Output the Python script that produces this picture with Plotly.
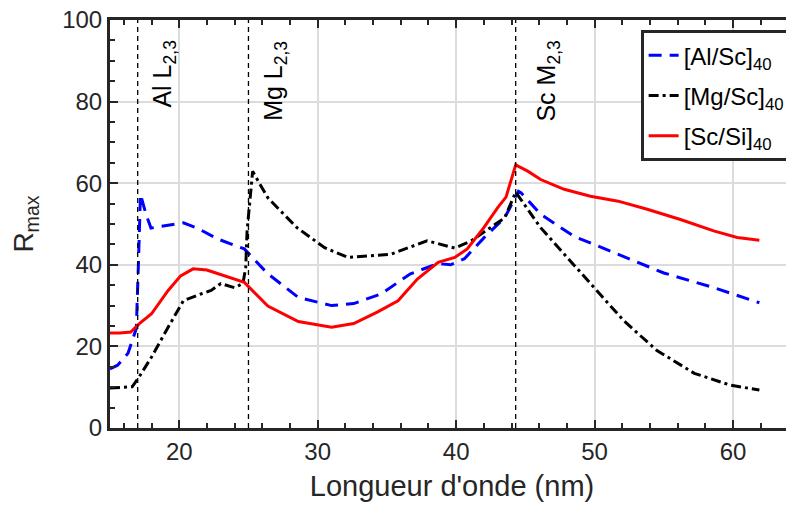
import plotly.graph_objects as go

# [Al/Sc]40
al_x = [15.0, 15.55, 16.3, 16.9, 17.05, 17.2, 17.6, 17.96, 20.3, 21.3, 22.8, 24.7, 26.4, 28.6, 31.0, 32.6,
        34.6, 36.7, 38.7, 39.6, 40.6, 42.0, 43.5, 44.5, 44.7, 46.1, 48.5, 51.7, 55.0, 58.6, 61.9]
al_y = [14.5, 15.4, 18.3, 24.4, 40.0, 57.3, 52.4, 49.0, 50.3, 49.0, 46.3, 43.9, 37.8, 32.0, 30.0, 30.5,
        32.9, 37.8, 40.3, 40.0, 41.5, 46.6, 51.5, 58.0, 57.6, 52.4, 47.0, 42.6, 38.0, 34.4, 30.7]

# [Mg/Sc]40
mg_x = [15.0, 15.7, 16.6, 17.1, 18.0, 19.2, 20.3, 21.6, 22.3, 23.0, 24.0, 24.6, 24.8, 24.9, 25.2, 25.3,
        26.4, 28.5, 30.5, 32.2, 35.3, 37.9, 39.9, 41.1, 43.5, 44.3, 46.1, 47.8, 49.95, 52.1, 54.5, 57.2,
        59.8, 61.9]
mg_y = [9.8, 9.9, 10.1, 12.5, 17.4, 24.7, 31.2, 32.9, 33.7, 35.4, 34.4, 35.4, 39.3, 48.3, 60.5, 62.9,
        56.4, 49.1, 44.2, 41.8, 42.6, 45.9, 44.1, 45.9, 51.5, 57.8, 49.1, 42.6, 34.4, 26.3, 19.0, 13.4,
        10.5, 9.3]

# [Sc/Si]40
sc_x = [15.0, 15.7, 16.5, 17.1, 18.0, 19.2, 20.1, 21.0, 22.0, 23.2, 24.7, 26.4, 28.6, 31.0, 32.6, 34.3,
        35.8, 37.2, 38.7, 39.9, 40.8, 42.0, 43.0, 43.6, 44.3, 45.2, 46.1, 47.8, 49.7, 51.7, 53.8, 56.2,
        58.6, 60.3, 61.9]
sc_y = [23.3, 23.3, 23.5, 25.5, 28.0, 33.7, 37.3, 39.0, 38.7, 37.3, 35.7, 29.9, 26.1, 24.7, 25.6, 28.4,
        31.2, 36.5, 40.6, 41.8, 43.9, 49.1, 54.0, 56.6, 64.5, 62.9, 60.9, 58.5, 56.8, 55.6, 53.6, 51.1,
        48.3, 46.7, 46.0]

edge_x = [17.0, 25.0, 44.3]
edge_labels = ["Al L<sub>2,3</sub>", "Mg L<sub>2,3</sub>", "Sc M<sub>2,3</sub>"]
edge_shift = [8, 9, 14]

FONT = "Liberation Sans, Arial, sans-serif"
AXC = "#262626"

fig = go.Figure()
fig.add_trace(go.Scatter(x=al_x, y=al_y, mode="lines", name="[Al/Sc]<sub>40</sub>", legendgroup="a",
                         line=dict(color="#0000ff", width=3, dash="13px,8px")))
fig.add_trace(go.Scatter(x=mg_x, y=mg_y, mode="lines", name="[Mg/Sc]<sub>40</sub>", legendgroup="b",
                         line=dict(color="#000000", width=3, dash="10px,4px,3px,4px")))
fig.add_trace(go.Scatter(x=sc_x, y=sc_y, mode="lines", name="[Sc/Si]<sub>40</sub>", legendgroup="c",
                         line=dict(color="#ff0000", width=3)))

for ex, lab, sh in zip(edge_x, edge_labels, edge_shift):
    fig.add_shape(type="line", x0=ex, x1=ex, y0=0, y1=100, xref="x", yref="y",
                  line=dict(color="black", width=1.3, dash="5px,4px"), layer="above")
    fig.add_annotation(x=ex, y=95.5, text=lab, textangle=-90, showarrow=False,
                       xanchor="left", yanchor="top", xshift=sh,
                       font=dict(size=25, color="black", family=FONT))

axis_common = dict(showline=True, linewidth=3, linecolor=AXC, mirror="ticks",
                   ticks="inside", ticklen=8, tickwidth=2, tickcolor=AXC,
                   showgrid=True, gridcolor="#dcdcdc", gridwidth=2, zeroline=False,
                   ticklabeloverflow="allow",
                   tickfont=dict(size=24, color=AXC, family=FONT))

fig.update_xaxes(range=[15, 64.4], dtick=10, tick0=0,
                 minor=dict(dtick=2, tick0=0, ticks="inside", ticklen=5, tickcolor=AXC, tickwidth=2, showgrid=False),
                 title=dict(text="Longueur d'onde (nm)", font=dict(size=29, color=AXC, family=FONT), standoff=12),
                 **axis_common)
fig.update_yaxes(range=[0, 100], dtick=20, tick0=0,
                 minor=dict(dtick=5, tick0=0, ticks="inside", ticklen=5, tickcolor=AXC, tickwidth=2, showgrid=False),
                 title=dict(text="R<sub>max</sub>", font=dict(size=28, color=AXC, family=FONT), standoff=40),
                 **axis_common)

fig.update_layout(
    width=786, height=501,
    margin=dict(l=102, r=0, t=12, b=81, autoexpand=False),
    plot_bgcolor="white", paper_bgcolor="white",
    legend=dict(x=0.998, y=0.975, xanchor="right", yanchor="top",
                bgcolor="white", bordercolor=AXC, borderwidth=3,
                font=dict(size=24, color="black", family=FONT), tracegroupgap=6),
    font=dict(family=FONT),
)

fig.write_html("out.html")
